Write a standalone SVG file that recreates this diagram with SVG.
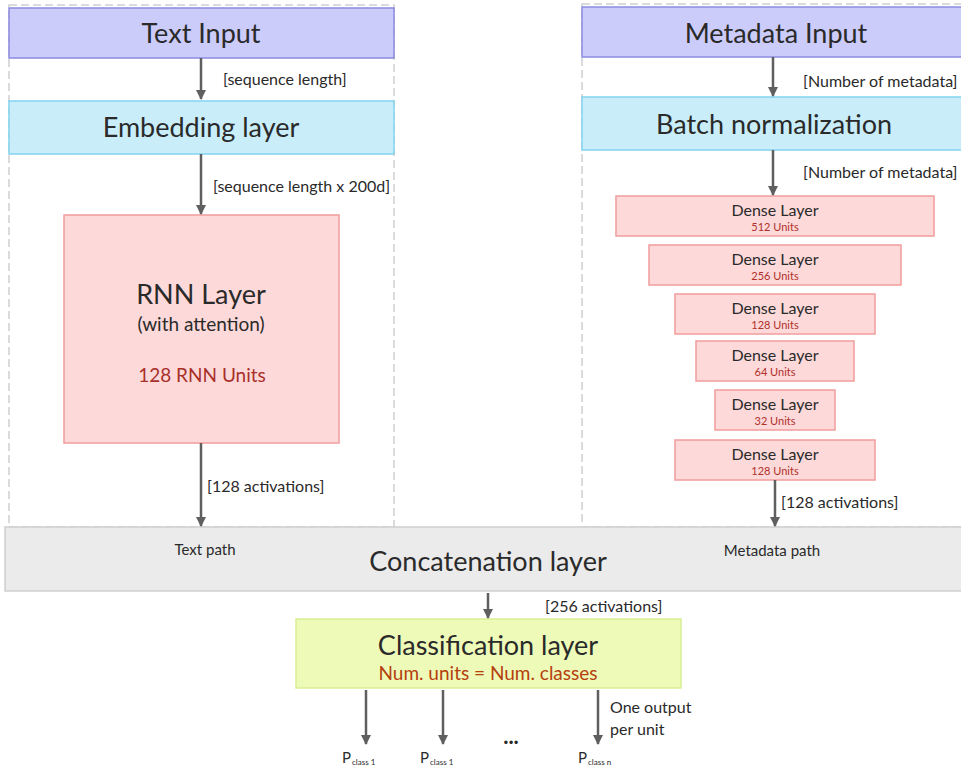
<svg xmlns="http://www.w3.org/2000/svg" width="961" height="771" viewBox="0 0 961 771">
  <defs>
    <marker id="arrow" viewBox="0 0 10 10" refX="9" refY="5" markerWidth="4" markerHeight="4" orient="auto" markerUnits="strokeWidth">
      <path d="M0,0 L10,5 L0,10 z" fill="#5f5f5f"/>
    </marker>
    <style>
      text { font-family: Lato, "Open Sans", "Liberation Sans", sans-serif; fill: #2a2a2a; }
      .frame { fill: #ffffff; stroke: #cfcfcf; stroke-width: 1.5; stroke-dasharray: 8 4; }
      .input { fill: #ccccfb; stroke: #8b8be0; stroke-width: 1.5; }
      .embed { fill: #c9eefa; stroke: #82d3ef; stroke-width: 1.5; }
      .dense { fill: #fdd9d9; stroke: #f19c9c; stroke-width: 1.5; }
      .concat { fill: #ebebeb; stroke: #cfcfcf; stroke-width: 1.5; }
      .classify { fill: #eefab8; stroke: #d9ef94; stroke-width: 1.5; }
      .big { font-size: 27px; text-anchor: middle; }
      .mid { font-size: 19px; text-anchor: middle; }
      .dl { font-size: 16px; text-anchor: middle; }
      .units { font-size: 11px; text-anchor: middle; fill: #b0302a; }
      .red { fill: #a8302a; }
      .orange { fill: #b4400e; }
      .lbl { font-size: 16px; }
      .path { font-size: 15px; text-anchor: middle; }
      .sub { font-size: 8px; fill: #2a2a2a; }
      .conn line { stroke: #5f5f5f; stroke-width: 2.5; marker-end: url(#arrow); }
    </style>
  </defs>

  <rect width="961" height="771" fill="#ffffff"/>

  <!-- path frames -->
  <rect class="frame" x="9" y="5" width="385" height="522"/>
  <rect class="frame" x="582" y="4" width="390" height="523"/>

  <!-- text path -->
  <g id="text-input">
    <rect class="input" x="9" y="8" width="385" height="50"/>
    <text class="big" x="201" y="43" font-size="26">Text Input</text>
  </g>
  <g id="embedding">
    <rect class="embed" x="9" y="101" width="385" height="53"/>
    <text class="big" x="201" y="137">Embedding layer</text>
  </g>
  <g id="rnn">
    <rect class="dense" x="64" y="215" width="275" height="228"/>
    <text class="big" x="201" y="304" font-size="26">RNN Layer</text>
    <text class="mid" x="201" y="331">(with attention)</text>
    <text class="mid red" x="202" y="382" font-size="18">128 RNN Units</text>
  </g>

  <!-- metadata path -->
  <g id="metadata-input">
    <rect class="input" x="582" y="7" width="390" height="50"/>
    <text class="big" x="776" y="43" font-size="26">Metadata Input</text>
  </g>
  <g id="batch-norm">
    <rect class="embed" x="582" y="97" width="390" height="53"/>
    <text class="big" x="774" y="134">Batch normalization</text>
  </g>
  <g id="dense-512">
    <rect class="dense" x="616" y="196" width="318" height="40"/>
    <text class="dl" x="775" y="216">Dense Layer</text>
    <text class="units" x="775" y="231">512 Units</text>
  </g>
  <g id="dense-256">
    <rect class="dense" x="649" y="245" width="252" height="40"/>
    <text class="dl" x="775" y="265">Dense Layer</text>
    <text class="units" x="775" y="280">256 Units</text>
  </g>
  <g id="dense-128a">
    <rect class="dense" x="675" y="294" width="200" height="40"/>
    <text class="dl" x="775" y="314">Dense Layer</text>
    <text class="units" x="775" y="329">128 Units</text>
  </g>
  <g id="dense-64">
    <rect class="dense" x="696" y="341" width="158" height="40"/>
    <text class="dl" x="775" y="361">Dense Layer</text>
    <text class="units" x="775" y="376">64 Units</text>
  </g>
  <g id="dense-32">
    <rect class="dense" x="715" y="390" width="120" height="40"/>
    <text class="dl" x="775" y="410">Dense Layer</text>
    <text class="units" x="775" y="425">32 Units</text>
  </g>
  <g id="dense-128b">
    <rect class="dense" x="675" y="440" width="200" height="40"/>
    <text class="dl" x="775" y="460">Dense Layer</text>
    <text class="units" x="775" y="475">128 Units</text>
  </g>

  <!-- merge and output -->
  <g id="concatenation">
    <rect class="concat" x="5" y="527" width="970" height="64"/>
    <text class="path" x="205" y="555">Text path</text>
    <text class="big" x="488" y="571">Concatenation layer</text>
    <text class="path" x="772" y="556">Metadata path</text>
  </g>
  <g id="classification">
    <rect class="classify" x="296" y="619" width="385" height="69"/>
    <text class="big" x="488" y="655">Classification layer</text>
    <text class="mid orange" x="488" y="680">Num. units = Num. classes</text>
  </g>
  <g id="outputs">
    <text x="342" y="763" font-size="15">P<tspan class="sub" dx="1" dy="2">class 1</tspan></text>
    <text x="420" y="763" font-size="15">P<tspan class="sub" dx="1" dy="2">class 1</tspan></text>
    <text x="511" y="744" font-size="22" text-anchor="middle" font-weight="bold">...</text>
    <text x="578" y="763" font-size="15">P<tspan class="sub" dx="1" dy="2">class n</tspan></text>
    <text class="lbl" x="610" y="713">One output</text>
    <text class="lbl" x="610" y="735">per unit</text>
  </g>

  <!-- connectors -->
  <g id="connectors" class="conn">
    <line x1="201" y1="58" x2="201" y2="99"/>
    <line x1="201" y1="154" x2="201" y2="214"/>
    <line x1="201" y1="443" x2="201" y2="526"/>
    <line x1="773" y1="57" x2="773" y2="96"/>
    <line x1="773" y1="150" x2="773" y2="195"/>
    <line x1="775" y1="480" x2="775" y2="526"/>
    <line x1="488" y1="593" x2="488" y2="618"/>
    <line x1="366" y1="690" x2="366" y2="744"/>
    <line x1="443" y1="690" x2="443" y2="744"/>
    <line x1="598" y1="690" x2="598" y2="744"/>
  </g>
  <g id="connector-labels">
    <text class="lbl" x="223" y="85">[sequence length]</text>
    <text class="lbl" x="213" y="192">[sequence length x 200d]</text>
    <text class="lbl" x="207" y="492">[128 activations]</text>
    <text class="lbl" x="803" y="87">[Number of metadata]</text>
    <text class="lbl" x="803" y="178">[Number of metadata]</text>
    <text class="lbl" x="781" y="508">[128 activations]</text>
    <text class="lbl" x="545" y="612">[256 activations]</text>
  </g>
</svg>
